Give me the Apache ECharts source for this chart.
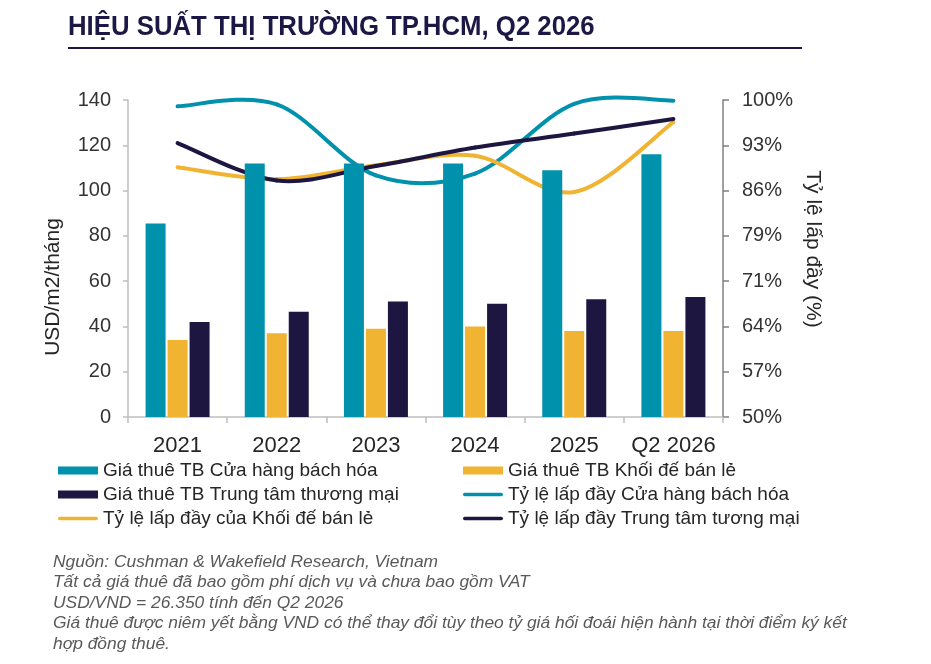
<!DOCTYPE html>
<html>
<head>
<meta charset="utf-8">
<script src="https://cdn.jsdelivr.net/npm/echarts@6/dist/echarts.min.js"></script>
<style>
  html, body { margin: 0; padding: 0; background: #fff; }
  #chart { width: 931px; height: 664px; }
</style>
</head>
<body>
<div id="chart"></div>
<script>
var categories = ['2021', '2022', '2023', '2024', '2025', 'Q2 2026'];

// giá thuê TB (USD/m2/tháng)
var rentDeptStore = [85.5, 112, 112, 112, 109, 116];
var rentPodium = [34, 37, 39, 40, 38, 38];
var rentMall = [42, 46.5, 51, 50, 52, 53];

// tỷ lệ lấp đầy (%)
var occDeptStore = [99.0, 99.3, 88.1, 88.4, 99.4, 99.9];
var occPodium = [89.4, 87.5, 89.7, 91.2, 85.5, 96.5];
var occMall = [93.2, 87.3, 89.6, 92.5, 94.7, 97.0];

var footnotes = [
  'Nguồn: Cushman & Wakefield Research, Vietnam',
  'Tất cả giá thuê đã bao gồm phí dịch vụ và chưa bao gồm VAT',
  'USD/VND = 26.350 tính đến Q2 2026',
  'Giá thuê được niêm yết bằng VND có thể thay đổi tùy theo tỷ giá hối đoái hiện hành tại thời điểm ký kết',
  'hợp đồng thuê.'
];

var TEAL = '#0092ad';
var GOLD = '#f0b332';
var NAVY = '#1c1641';
var FONT = '"Liberation Sans", Arial, sans-serif';
var LINE_ICON = 'path://M2,0L42,0A2,2,0,0,1,42,4L2,4A2,2,0,0,1,2,0Z';

var chart = echarts.init(document.getElementById('chart'));

// excel-like smoothed line: one bezier segment per data item, through the axis scales
function smoothLine(name, values, color) {
  return {
    name: name,
    type: 'custom',
    yAxisIndex: 1,
    data: values.map(function (v, i) { return [i, v]; }),
    encode: { x: 0, y: 1 },
    itemStyle: { color: color },
    renderItem: function (params, api) {
      var i = params.dataIndex;
      var n = values.length;
      if (i >= n - 1) return null;
      var pt = function (k) {
        k = Math.max(0, Math.min(n - 1, k));
        return api.coord([k, values[k]]);
      };
      var p0 = pt(i - 1), p1 = pt(i), p2 = pt(i + 1), p3 = pt(i + 2);
      var t = 1 / 6;
      return {
        type: 'bezierCurve',
        shape: {
          x1: p1[0], y1: p1[1],
          cpx1: p1[0] + (p2[0] - p0[0]) * t, cpy1: p1[1] + (p2[1] - p0[1]) * t,
          cpx2: p2[0] - (p3[0] - p1[0]) * t, cpy2: p2[1] - (p3[1] - p1[1]) * t,
          x2: p2[0], y2: p2[1]
        },
        style: { stroke: color, lineWidth: 4, fill: null, lineCap: 'round' }
      };
    }
  };
}

var noteText = footnotes.map(function (t, i) {
  return {
    type: 'text',
    x: 53,
    y: 562 + i * 20.5,
    style: {
      text: t,
      font: 'italic 17.4px ' + FONT,
      fill: '#595959',
      verticalAlign: 'middle'
    }
  };
});

var legendText = { fontSize: 19, color: '#262626', fontFamily: FONT };

var option = {
  backgroundColor: '#fff',
  animation: false,
  graphic: [
    {
      type: 'text',
      x: 68,
      y: 27,
      scaleX: 0.92,
      style: {
        text: 'HIỆU SUẤT THỊ TRƯỜNG TP.HCM, Q2 2026',
        font: 'bold 28px ' + FONT,
        fill: '#1c1845',
        verticalAlign: 'middle'
      }
    },
    {
      type: 'line',
      shape: { x1: 68, y1: 48, x2: 802, y2: 48 },
      style: { stroke: '#1c1845', lineWidth: 2 }
    },
    {
      type: 'text',
      x: 53,
      y: 287,
      rotation: Math.PI / 2,
      style: {
        text: 'USD/m2/tháng',
        font: '21px ' + FONT,
        fill: '#262626',
        align: 'center',
        verticalAlign: 'middle'
      }
    },
    {
      type: 'text',
      x: 813,
      y: 249,
      rotation: -Math.PI / 2,
      style: {
        text: 'Tỷ lệ lấp đầy (%)',
        font: '21px ' + FONT,
        fill: '#262626',
        align: 'center',
        verticalAlign: 'middle'
      }
    }
  ].concat(noteText),
  legend: [
    {
      orient: 'vertical',
      left: 53,
      top: 456,
      itemWidth: 40,
      itemHeight: 8,
      itemGap: 5,
      textStyle: legendText,
      data: [
        { name: 'Giá thuê TB Cửa hàng bách hóa', icon: 'rect' },
        { name: 'Giá thuê TB Trung tâm thương mại', icon: 'rect' },
        { name: 'Tỷ lệ lấp đầy của Khối đế bán lẻ', icon: LINE_ICON }
      ]
    },
    {
      orient: 'vertical',
      left: 458,
      top: 456,
      itemWidth: 40,
      itemHeight: 8,
      itemGap: 5,
      textStyle: legendText,
      data: [
        { name: 'Giá thuê TB Khối đế bán lẻ', icon: 'rect' },
        { name: 'Tỷ lệ lấp đầy Cửa hàng bách hóa', icon: LINE_ICON },
        { name: 'Tỷ lệ lấp đầy Trung tâm tương mại', icon: LINE_ICON }
      ]
    }
  ],
  grid: {
    left: 128,
    right: 208,
    top: 100,
    bottom: 247,
    containLabel: false
  },
  xAxis: {
    type: 'category',
    data: categories,
    axisLine: { lineStyle: { color: '#bfbfbf', width: 1.5 } },
    axisTick: { show: true, length: 6, lineStyle: { color: '#bfbfbf', width: 1.5 } },
    axisLabel: { interval: 0, fontSize: 22, color: '#262626', fontFamily: FONT, margin: 18 }
  },
  yAxis: [
    {
      type: 'value',
      min: 0,
      max: 140,
      interval: 20,
      axisLine: { show: true, lineStyle: { color: '#bfbfbf', width: 1.5 } },
      axisTick: { show: true, length: 5, lineStyle: { color: '#bfbfbf', width: 1.5 } },
      axisLabel: { fontSize: 20, color: '#333', fontFamily: FONT, margin: 17 },
      splitLine: { show: false }
    },
    {
      type: 'value',
      min: 50,
      max: 100,
      interval: 50 / 7,
      position: 'right',
      axisLine: { show: true, lineStyle: { color: '#808080', width: 1.5 } },
      axisTick: { show: true, length: 6, lineStyle: { color: '#808080', width: 1.5 } },
      axisLabel: {
        fontSize: 20,
        color: '#333',
        fontFamily: FONT,
        margin: 19,
        formatter: function (v) { return Math.round(v) + '%'; }
      },
      splitLine: { show: false }
    }
  ],
  series: [
    {
      name: 'Giá thuê TB Cửa hàng bách hóa',
      type: 'bar',
      data: rentDeptStore,
      barWidth: 20,
      barGap: '10%',
      itemStyle: { color: TEAL }
    },
    {
      name: 'Giá thuê TB Khối đế bán lẻ',
      type: 'bar',
      data: rentPodium,
      barWidth: 20,
      barGap: '10%',
      itemStyle: { color: GOLD }
    },
    {
      name: 'Giá thuê TB Trung tâm thương mại',
      type: 'bar',
      data: rentMall,
      barWidth: 20,
      barGap: '10%',
      itemStyle: { color: NAVY }
    },
    smoothLine('Tỷ lệ lấp đầy Cửa hàng bách hóa', occDeptStore, TEAL),
    smoothLine('Tỷ lệ lấp đầy của Khối đế bán lẻ', occPodium, GOLD),
    smoothLine('Tỷ lệ lấp đầy Trung tâm tương mại', occMall, NAVY)
  ]
};

chart.setOption(option);
</script>
</body>
</html>
